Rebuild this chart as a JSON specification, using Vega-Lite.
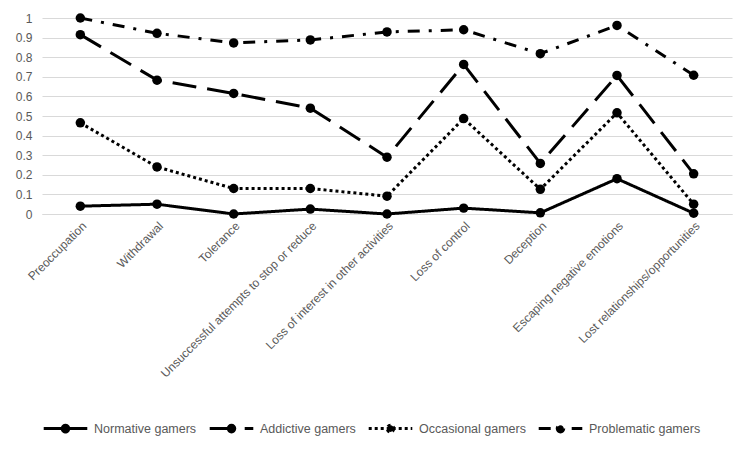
{
  "$schema": "https://vega.github.io/schema/vega-lite/v6.json",
  "width": 690,
  "height": 196,
  "padding": {"left": 15, "top": 12, "right": 10, "bottom": 10},
  "background": "white",
  "config": {
    "font": "Liberation Sans",
    "view": {"stroke": null},
    "axis": {"labelColor": "#595959", "labelFontSize": 12, "ticks": false, "gridColor": "#d9d9d9", "domainColor": "#d9d9d9"},
    "legend": {"labelColor": "#595959", "labelFontSize": 12.5}
  },
  "data": {
    "values": [
      {"criterion": "Preoccupation", "group": "Normative gamers", "value": 0.04},
      {"criterion": "Withdrawal", "group": "Normative gamers", "value": 0.05},
      {"criterion": "Tolerance", "group": "Normative gamers", "value": 0.0},
      {"criterion": "Unsuccessful attempts to stop or reduce", "group": "Normative gamers", "value": 0.025},
      {"criterion": "Loss of interest in other activities", "group": "Normative gamers", "value": 0.0},
      {"criterion": "Loss of control", "group": "Normative gamers", "value": 0.03},
      {"criterion": "Deception", "group": "Normative gamers", "value": 0.006},
      {"criterion": "Escaping negative emotions", "group": "Normative gamers", "value": 0.18},
      {"criterion": "Lost relationships/opportunities", "group": "Normative gamers", "value": 0.004},
      {"criterion": "Preoccupation", "group": "Addictive gamers", "value": 0.915},
      {"criterion": "Withdrawal", "group": "Addictive gamers", "value": 0.683},
      {"criterion": "Tolerance", "group": "Addictive gamers", "value": 0.615},
      {"criterion": "Unsuccessful attempts to stop or reduce", "group": "Addictive gamers", "value": 0.54},
      {"criterion": "Loss of interest in other activities", "group": "Addictive gamers", "value": 0.29},
      {"criterion": "Loss of control", "group": "Addictive gamers", "value": 0.763},
      {"criterion": "Deception", "group": "Addictive gamers", "value": 0.258},
      {"criterion": "Escaping negative emotions", "group": "Addictive gamers", "value": 0.707},
      {"criterion": "Lost relationships/opportunities", "group": "Addictive gamers", "value": 0.205},
      {"criterion": "Preoccupation", "group": "Occasional gamers", "value": 0.465},
      {"criterion": "Withdrawal", "group": "Occasional gamers", "value": 0.24},
      {"criterion": "Tolerance", "group": "Occasional gamers", "value": 0.13},
      {"criterion": "Unsuccessful attempts to stop or reduce", "group": "Occasional gamers", "value": 0.13},
      {"criterion": "Loss of interest in other activities", "group": "Occasional gamers", "value": 0.091},
      {"criterion": "Loss of control", "group": "Occasional gamers", "value": 0.487},
      {"criterion": "Deception", "group": "Occasional gamers", "value": 0.126},
      {"criterion": "Escaping negative emotions", "group": "Occasional gamers", "value": 0.516},
      {"criterion": "Lost relationships/opportunities", "group": "Occasional gamers", "value": 0.05},
      {"criterion": "Preoccupation", "group": "Problematic gamers", "value": 1.0},
      {"criterion": "Withdrawal", "group": "Problematic gamers", "value": 0.922},
      {"criterion": "Tolerance", "group": "Problematic gamers", "value": 0.873},
      {"criterion": "Unsuccessful attempts to stop or reduce", "group": "Problematic gamers", "value": 0.888},
      {"criterion": "Loss of interest in other activities", "group": "Problematic gamers", "value": 0.929},
      {"criterion": "Loss of control", "group": "Problematic gamers", "value": 0.94},
      {"criterion": "Deception", "group": "Problematic gamers", "value": 0.818},
      {"criterion": "Escaping negative emotions", "group": "Problematic gamers", "value": 0.962},
      {"criterion": "Lost relationships/opportunities", "group": "Problematic gamers", "value": 0.708}
    ]
  },
  "encoding": {
    "x": {
      "field": "criterion",
      "type": "nominal",
      "sort": ["Preoccupation", "Withdrawal", "Tolerance", "Unsuccessful attempts to stop or reduce", "Loss of interest in other activities", "Loss of control", "Deception", "Escaping negative emotions", "Lost relationships/opportunities"],
      "scale": {"type": "point", "padding": 0.5},
      "axis": {"title": null, "labelAngle": -45, "labelPadding": 6, "labelLimit": 0}
    },
    "y": {
      "field": "value",
      "type": "quantitative",
      "scale": {"domain": [0, 1], "nice": false},
      "axis": {"title": null, "values": [0, 0.1, 0.2, 0.3, 0.4, 0.5, 0.6, 0.7, 0.8, 0.9, 1], "format": "~g", "domain": false, "labelPadding": 10}
    }
  },
  "layer": [
    {
      "mark": {"type": "line", "color": "black", "strokeWidth": 3},
      "encoding": {
        "strokeDash": {
          "field": "group",
          "type": "nominal",
          "scale": {
            "domain": ["Normative gamers", "Addictive gamers", "Occasional gamers", "Problematic gamers"],
            "range": [[1, 0], [24, 11], [3, 3], [12, 9, 3, 9]]
          },
          "legend": {
            "title": null,
            "orient": "bottom",
            "direction": "horizontal",
            "symbolType": "M-1,0L1,0M0.15,0A0.15,0.15,0,1,1,-0.15,0A0.15,0.15,0,1,1,0.15,0Z",
            "symbolStrokeWidth": 3,
            "symbolStrokeColor": "black",
            "symbolFillColor": "black",
            "symbolSize": 1900,
            "columnPadding": 6,
            "labelOffset": 5,
            "offset": 25,
            "encode": {"symbols": {"update": {"fill": {"value": "black"}, "fillOpacity": {"value": 1}, "opacity": {"value": 1}, "stroke": {"value": "black"}, "strokeWidth": {"value": 3}, "strokeDash": {"scale": "strokeDash", "field": "value"}}}}
          }
        }
      }
    },
    {
      "mark": {"type": "point", "filled": true, "color": "black", "opacity": 1, "size": 90},
      "encoding": {"detail": {"field": "group", "type": "nominal"}}
    }
  ]
}
